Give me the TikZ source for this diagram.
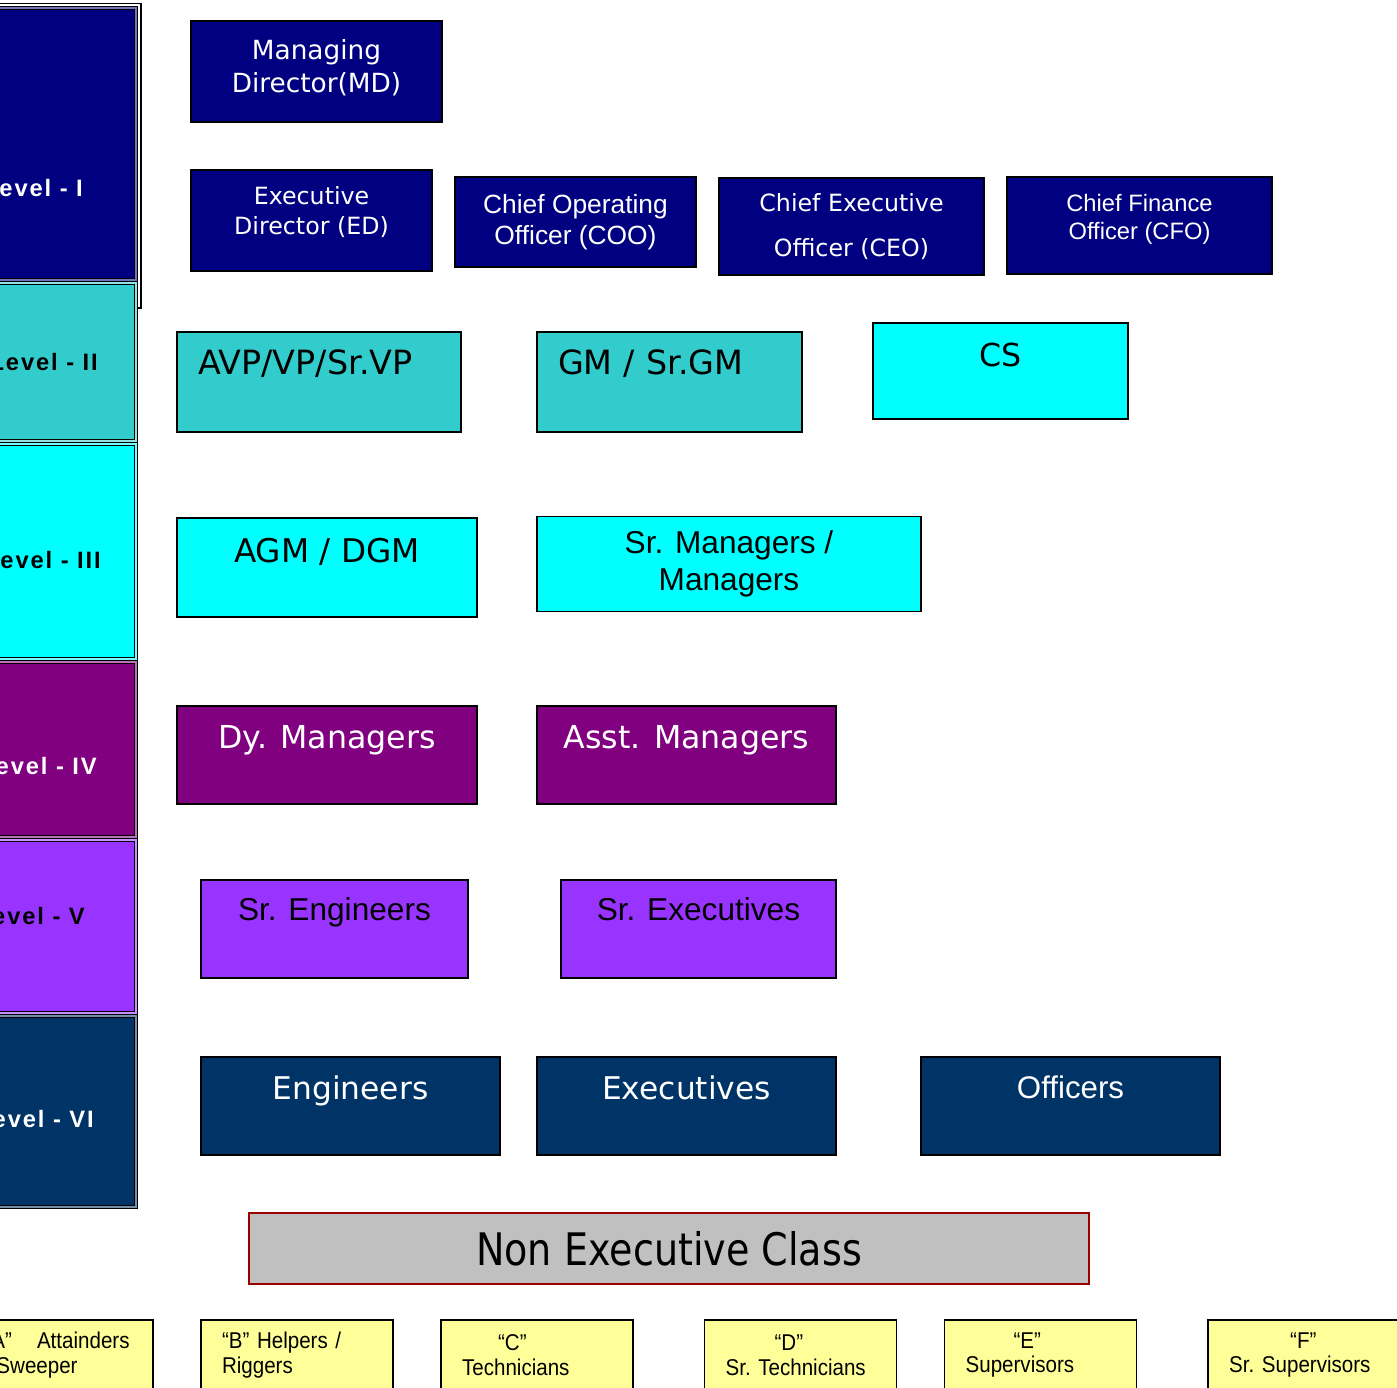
\documentclass[tikz,border=0pt]{standalone}
\usepackage{fontspec}
\setmainfont{DejaVu Sans}
\newfontfamily\arialfont{Liberation Sans}
\newfontfamily\levelfont[LetterSpace=8]{Liberation Sans}
\newfontfamily\narrowfont[FakeStretch=0.9]{Liberation Sans}
\newfontfamily\necfont[FakeStretch=0.85]{DejaVu Sans}
\usepackage{xcolor}
\usepackage{tikz}
\usetikzlibrary{positioning}

\definecolor{navyfill}{HTML}{000080}
\definecolor{tealfill}{HTML}{33CCCC}
\definecolor{aquafill}{HTML}{00FFFF}
\definecolor{plumfill}{HTML}{800080}
\definecolor{violetfill}{HTML}{9933FF}
\definecolor{deepblue}{HTML}{003366}
\definecolor{silverfill}{HTML}{C0C0C0}
\definecolor{darkredline}{HTML}{990000}
\definecolor{paleyellow}{HTML}{FFFF99}

\tikzset{
    box/.style={draw=black, line width=0.9pt, fill=#1, inner sep=0pt, align=center},
    level/.style={draw=black, line width=0.6pt, double=#1!55!white, double distance=0.7pt, fill=#1, inner sep=0pt},
    lift/.style={text depth=#1},
    lvltxt/.style={anchor=east, font=\levelfont\bfseries\fontsize{13.5}{16}\selectfont},
    ybox/.style={box=paleyellow, minimum width=3.84cm, minimum height=1.4cm, inner xsep=0.42cm,
                 text width=3.0cm, align=left, font=\narrowfont\fontsize{13}{14}\selectfont\frenchspacing}
}

\begin{document}
\begin{tikzpicture}[x=0.02cm, y=-0.02cm]
    \useasboundingbox (0,0) rectangle (1397,1387);
    \clip (0,0) rectangle (1397,1387);

    % 1. Cot cap bac ben trai
    \node[draw=black, line width=0.6pt, minimum width=3.22cm, minimum height=6.10cm] (frame) at (60.5,155.5) {};
    \node[level=navyfill, minimum width=3.12cm, minimum height=5.44cm] (lv1) at (58,144) {};
    \node[level=tealfill, minimum width=3.12cm, minimum height=3.16cm] (lv2) at (58,362) {};
    \node[level=aquafill, minimum width=3.12cm, minimum height=4.30cm] (lv3) at (58,551.5) {};
    \node[level=plumfill, minimum width=3.12cm, minimum height=3.50cm] (lv4) at (58,749.5) {};
    \node[level=violetfill, minimum width=3.12cm, minimum height=3.46cm] (lv5) at (58,926.5) {};
    \node[level=deepblue, minimum width=3.12cm, minimum height=3.82cm] (lv6) at (58,1111.5) {};

    \node[lvltxt, text=white] (t1) at (89,188) {Level - I};
    \node[lvltxt] (t2) at (104,362) {Level - II};
    \node[lvltxt] (t3) at (107,560) {Level - III};
    \node[lvltxt, text=white] (t4) at (103,766) {Level - IV};
    \node[lvltxt] (t5) at (91,916) {Level - V};
    \node[lvltxt, text=white] (t6) at (100,1119) {Level - VI};

    % 2. Level I
    \node[box=navyfill, text=white, minimum width=5.02cm, minimum height=2.02cm, lift=6pt,
          font=\fontsize{15}{18.7}\selectfont] (md) at (316.5,71.5) {Managing\\Director(MD)};
    \node[box=navyfill, text=white, minimum width=4.82cm, minimum height=2.02cm, lift=11pt,
          font=\fontsize{13.5}{17}\selectfont] (ed) at (311.5,220.5) {Executive\\Director (ED)};
    \node[box=navyfill, text=white, minimum width=4.82cm, minimum height=1.80cm,
          font=\arialfont\fontsize{15}{17.6}\selectfont] (coo) at (575.5,222) {Chief Operating\\Officer (COO)};
    \node[box=navyfill, text=white, minimum width=5.30cm, minimum height=1.94cm,
          font=\fontsize{13.5}{25.5}\selectfont] (ceo) at (851.5,226.5) {Chief Executive\\Officer (CEO)};
    \node[box=navyfill, text=white, minimum width=5.30cm, minimum height=1.94cm, lift=10pt,
          font=\arialfont\fontsize{13.5}{16}\selectfont] (cfo) at (1139.5,225.5) {Chief Finance\\Officer (CFO)};

    % 3. Level II - III
    \node[box=tealfill, minimum width=5.68cm, minimum height=2cm, inner xsep=0.42cm, text width=4.84cm,
          align=left, lift=22.5pt, font=\fontsize{19}{22}\selectfont] (avp) at (319,382) {AVP/VP/Sr.VP};
    \node[box=tealfill, minimum width=5.30cm, minimum height=2cm, inner xsep=0.42cm, text width=4.46cm,
          align=left, lift=22.5pt, font=\fontsize{19}{22}\selectfont] (gm) at (669.5,382) {GM / Sr.GM};
    \node[box=aquafill, minimum width=5.10cm, minimum height=1.92cm, lift=19pt,
          font=\fontsize{18}{21}\selectfont] (cs) at (1000.5,371) {CS};
    \node[box=aquafill, minimum width=6.00cm, minimum height=1.98cm, lift=20pt,
          font=\fontsize{18.6}{22}\selectfont] (agm) at (327,567.5) {AGM / DGM};
    \node[box=aquafill, minimum width=7.68cm, minimum height=1.90cm,
          font=\arialfont\fontsize{18}{21}\selectfont] (srm) at (729,564) {Sr. Managers /\\Managers};

    % 4. Level IV - VI
    \node[box=plumfill, text=white, minimum width=6.00cm, minimum height=1.96cm, lift=20pt,
          font=\fontsize{18}{21}\selectfont] (dym) at (327,755) {Dy. Managers};
    \node[box=plumfill, text=white, minimum width=5.98cm, minimum height=1.96cm, lift=20pt,
          font=\fontsize{18}{21}\selectfont] (asm) at (686.5,755) {Asst. Managers};
    \node[box=violetfill, minimum width=5.34cm, minimum height=1.96cm, lift=22.5pt,
          font=\arialfont\fontsize{18}{21}\selectfont] (sre) at (334.5,929) {Sr. Engineers};
    \node[box=violetfill, minimum width=5.50cm, minimum height=1.96cm, lift=22.5pt,
          font=\arialfont\fontsize{18}{21}\selectfont] (srx) at (698.5,929) {Sr. Executives};
    \node[box=deepblue, text=white, minimum width=5.98cm, minimum height=1.96cm, lift=21pt,
          font=\fontsize{17.8}{21}\selectfont] (eng) at (350.5,1106) {Engineers};
    \node[box=deepblue, text=white, minimum width=5.98cm, minimum height=1.96cm, lift=21pt,
          font=\fontsize{17.8}{21}\selectfont] (exe) at (686.5,1106) {Executives};
    \node[box=deepblue, text=white, minimum width=5.98cm, minimum height=1.96cm, lift=21pt,
          font=\arialfont\fontsize{17.8}{21}\selectfont] (off) at (1070.5,1106) {Officers};

    % 5. Non executive
    \node[box=silverfill, draw=darkredline, minimum width=16.80cm, minimum height=1.42cm,
          font=\necfont\fontsize{25.5}{30}\selectfont] (nec) at (669,1248.5) {Non Executive Class};
    \node[ybox, text width=2.9cm, inner xsep=0.47cm] (ca) at (57,1355)
          {\mbox{“A”\hspace{1.1em}Attainders}\\\hspace*{6.8pt}Sweeper};
    \node[ybox, right=0.93cm of ca] (cb) {“B” Helpers /\\Riggers};
    \node[ybox, right=0.93cm of cb] (cc) {\hspace*{0.72cm}“C”\\Technicians};
    \node[ybox, right=1.40cm of cc] (cd) {\hspace*{0.98cm}“D”\\Sr. Technicians};
    \node[ybox, right=0.93cm of cd] (ce) {\hspace*{0.96cm}“E”\\Supervisors};
    \node[ybox, right=1.40cm of ce] (cf) {\hspace*{1.22cm}“F”\\Sr. Supervisors};
\end{tikzpicture}
\end{document}
